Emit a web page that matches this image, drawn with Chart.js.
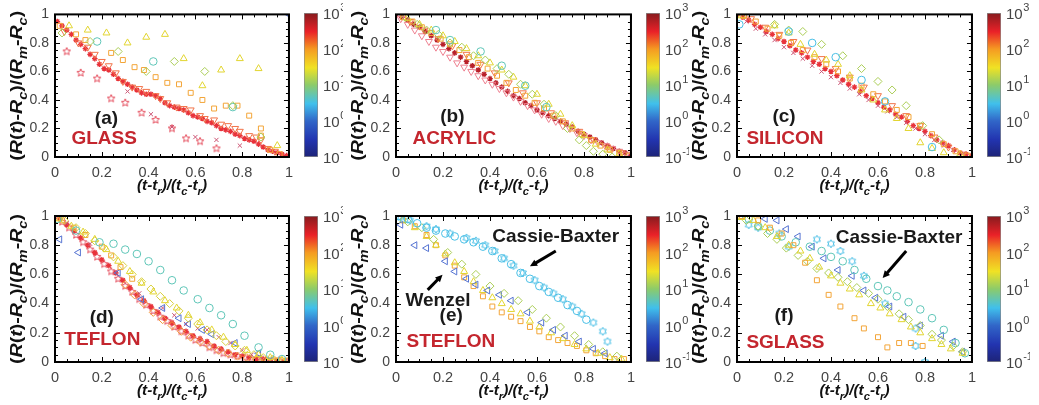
<!DOCTYPE html>
<html><head><meta charset="utf-8">
<script src="https://cdn.jsdelivr.net/npm/chart.js@4.4.1/dist/chart.umd.min.js"></script>
<style>
body{margin:0;background:#fff;width:1039px;height:405px;position:relative;overflow:hidden}
canvas{position:absolute}
canvas.panel{background:#fff}
</style></head><body>
<script>
// ---------------- DATA ----------------
const xTickLabels = ['0','0.2','0.4','0.6','0.8','1'];
const cbTickValues = [0.1, 1, 10, 100, 1000];
const cbTickBase = '10';
const cbTickExps = ['-1','0','1','2','3'];
const panelLetters = ['(a)','(b)','(c)','(d)','(e)','(f)'];
const materials = ['GLASS','ACRYLIC','SILICON','TEFLON','STEFLON','SGLASS'];

// (a) GLASS
const a_ast = [[.01,.95],[.03,.92],[.05,.89],[.07,.86],[.09,.82],[.11,.79],[.13,.76],[.15,.72],[.17,.69],[.19,.65],[.21,.62],[.23,.61],[.25,.58],[.27,.55],[.29,.53],[.31,.51],[.33,.49],[.35,.47],[.37,.45],[.39,.44],[.41,.44],[.43,.43],[.45,.41],[.47,.38],[.49,.36],[.51,.35],[.53,.34],[.55,.33],[.57,.31],[.59,.29],[.61,.28],[.63,.27],[.65,.25],[.67,.24],[.69,.22],[.71,.20],[.73,.19],[.75,.18],[.77,.16],[.79,.15],[.81,.13],[.83,.12],[.85,.11],[.87,.09],[.89,.07],[.91,.05],[.93,.04],[.95,.03],[.97,.02],[.99,.01]];
const a_tridown = [[.04,.88],[.10,.80],[.14,.77],[.17,.72],[.20,.67],[.23,.64],[.26,.59],[.29,.53],[.33,.49],[.36,.48],[.39,.46],[.43,.43],[.45,.41],[.48,.38],[.52,.35],[.55,.34],[.58,.33],[.62,.29],[.64,.27],[.68,.26],[.71,.23],[.74,.22],[.77,.20],[.79,.18],[.83,.15],[.86,.14],[.88,.12],[.91,.06],[.94,.04]];
const a_square = [[.02,.92],[.09,.86],[.13,.82],[.24,.73],[.29,.68],[.34,.63],[.38,.61],[.43,.56],[.48,.52],[.53,.51],[.58,.45],[.63,.40],[.68,.34],[.73,.36],[.78,.36],[.83,.29],[.88,.20],[.88,.15],[.92,.05],[.96,.02]];
const a_triup = [[.06,.92],[.14,.89],[.22,.87],[.31,.80],[.39,.84],[.47,.86],[.55,.69],[.63,.50],[.71,.61],[.79,.69],[.87,.62],[.95,.08]];
const a_circle = [[.18,.81],[.42,.67],[.76,.35]];
const a_diamond = [[.03,.87],[.15,.81],[.27,.74],[.39,.60],[.51,.67],[.64,.60],[.76,.36],[.88,.14]];
const a_penta = [[.05,.74],[.11,.59],[.18,.55],[.24,.41],[.30,.38],[.37,.31],[.43,.26],[.50,.20],[.56,.13],[.62,.11],[.69,.06]];
const a_cross = [[.31,.46],[.41,.30],[.50,.21],[.60,.14],[.69,.12],[.79,.08]];
const a_blue = [[1,1]];

// (b) ACRYLIC
const b_ast = [[0,1],[.025,.98],[.05,.96],[.075,.93],[.1,.91],[.125,.88],[.15,.85],[.175,.82],[.2,.79],[.225,.76],[.25,.73],[.275,.70],[.3,.67],[.325,.64],[.35,.61],[.375,.58],[.4,.55],[.425,.52],[.45,.49],[.475,.46],[.5,.43],[.525,.41],[.55,.38],[.575,.36],[.6,.33],[.625,.31],[.65,.29],[.675,.27],[.7,.25],[.725,.23],[.75,.21],[.775,.18],[.8,.16],[.825,.14],[.85,.12],[.875,.10],[.9,.08],[.925,.06],[.95,.04],[.975,.03],[1,.01]];
const b_pinktri = [[.02,.97],[.05,.93],[.08,.89],[.11,.85],[.14,.81],[.17,.77],[.2,.74],[.23,.70],[.26,.66],[.29,.63],[.32,.60],[.35,.57],[.38,.54],[.41,.51],[.44,.48],[.47,.45],[.50,.42],[.53,.39],[.56,.36],[.59,.33],[.62,.30],[.65,.27],[.68,.25],[.71,.22],[.74,.20],[.77,.17],[.80,.15],[.83,.12],[.86,.10],[.89,.08],[.92,.06],[.95,.04],[.98,.02]];
const b_square = [[.03,.98],[.07,.95],[.11,.91],[.15,.87],[.19,.83],[.23,.79],[.27,.75],[.31,.70],[.35,.66],[.39,.62],[.43,.57],[.47,.52],[.51,.47],[.55,.43],[.59,.38],[.63,.34],[.67,.29],[.71,.25],[.75,.20],[.79,.16],[.83,.12],[.87,.08],[.91,.05],[.95,.03],[.99,.01]];
const b_triup = [[.05,.97],[.1,.93],[.15,.89],[.2,.85],[.25,.81],[.3,.76],[.35,.71],[.4,.66],[.45,.61],[.5,.56],[.55,.50],[.6,.44],[.65,.37],[.7,.30],[.75,.22],[.8,.15],[.85,.09],[.9,.05],[.95,.02]];
const b_diamond = [[.04,.98],[.09,.93],[.13,.89],[.18,.86],[.23,.80],[.28,.77],[.33,.71],[.38,.68],[.43,.62],[.48,.58],[.53,.51],[.58,.44],[.63,.37],[.68,.29],[.73,.20],[.78,.12],[.81,.08],[.84,.04],[.88,.02],[.92,0]];
const b_circle = [[.17,.89],[.23,.82],[.36,.74],[.45,.64],[.55,.50],[.64,.35]];
const b_tridown = [[.06,.95],[.12,.89],[.18,.83],[.24,.78],[.3,.72],[.36,.65],[.42,.59],[.48,.52],[.54,.45],[.6,.38],[.66,.31],[.72,.24],[.78,.18],[.84,.12],[.9,.07],[.96,.03]];

// (c) SILICON
const c_ast = [[0,1],[.025,.98],[.05,.96],[.075,.93],[.1,.91],[.125,.88],[.15,.86],[.175,.83],[.2,.81],[.225,.78],[.25,.75],[.275,.73],[.3,.70],[.325,.67],[.35,.65],[.375,.62],[.4,.60],[.425,.57],[.45,.54],[.475,.51],[.5,.49],[.525,.46],[.55,.43],[.575,.41],[.6,.38],[.625,.35],[.65,.33],[.675,.30],[.7,.28],[.725,.25],[.75,.22],[.775,.20],[.8,.18],[.825,.15],[.85,.12],[.875,.10],[.9,.08],[.925,.05],[.95,.03],[.975,.02],[1,.01]];
const c_cross = [[.04,.95],[.08,.90],[.12,.86],[.16,.82],[.2,.77],[.24,.73],[.28,.69],[.32,.64],[.36,.60],[.4,.56],[.44,.52],[.48,.48],[.52,.44],[.56,.40],[.6,.36],[.64,.32],[.68,.28],[.72,.24],[.76,.20],[.8,.16],[.84,.12],[.88,.08],[.92,.05],[.96,.02]];
const c_square = [[.03,.99],[.08,.95],[.13,.90],[.18,.85],[.23,.80],[.28,.75],[.33,.70],[.38,.65],[.43,.60],[.48,.55],[.53,.50],[.58,.44],[.63,.39],[.68,.33],[.73,.28],[.78,.22],[.83,.16],[.88,.09],[.93,.04],[.98,.01]];
const c_tridown = [[.06,.97],[.12,.91],[.18,.86],[.24,.81],[.3,.75],[.36,.69],[.42,.62],[.48,.56],[.54,.49],[.6,.43],[.66,.36],[.72,.29],[.78,.22],[.84,.14],[.9,.07],[.96,.02]];
const c_triup = [[.02,.99],[.16,.92],[.22,.87],[.27,.79],[.33,.72],[.38,.68],[.43,.65],[.48,.57],[.53,.47],[.58,.40],[.63,.33],[.68,.27],[.73,.20],[.78,.10],[.83,.06],[.88,.03],[.95,.02]];
const c_diamond = [[.16,.93],[.22,.89],[.28,.88],[.36,.79],[.45,.71],[.53,.62],[.60,.53],[.66,.47],[.72,.36],[.79,.22],[.86,.12]];
const c_circle = [[.01,.93],[.22,.88],[.32,.80],[.42,.70],[.53,.54],[.63,.39],[.83,.07]];

// (d) TEFLON
const d_penta = [[0,1],[.03,.96],[.06,.92],[.09,.87],[.12,.82],[.15,.77],[.18,.72],[.21,.67],[.24,.62],[.27,.57],[.3,.52],[.33,.48],[.36,.43],[.39,.39],[.42,.35],[.45,.31],[.48,.28],[.51,.24],[.54,.21],[.57,.18],[.6,.15],[.63,.13],[.66,.10],[.69,.08],[.72,.06],[.75,.05],[.78,.04],[.81,.03],[.84,.02],[.87,.02],[.9,.01],[.93,.01],[.96,.01],[.99,0]];
const d_ast = [[.02,.98],[.05,.94],[.08,.90],[.11,.85],[.14,.80],[.17,.75],[.2,.70],[.23,.66],[.26,.61],[.29,.56],[.32,.51],[.35,.46],[.38,.42],[.41,.38],[.44,.34],[.47,.30],[.5,.27],[.53,.24],[.56,.21],[.59,.18],[.62,.16],[.65,.14],[.68,.11],[.71,.09],[.74,.07],[.77,.05],[.8,.04],[.83,.03],[.86,.02],[.89,.02],[.92,.01],[.95,.01],[.98,0]];
const d_odiamond = [[.3,.53],[.34,.46],[.38,.40],[.42,.34],[.46,.29],[.5,.25],[.54,.21],[.58,.17],[.62,.14],[.66,.11],[.7,.08],[.74,.06],[.78,.04],[.82,.03],[.86,.02],[.9,.01],[.94,.01],[.98,0]];
const d_diamond = [[.04,.97],[.09,.92],[.13,.88],[.17,.83],[.21,.78],[.25,.72],[.29,.66],[.33,.60],[.37,.55],[.41,.50],[.45,.45],[.49,.40],[.53,.35],[.57,.30],[.61,.26],[.65,.22],[.69,.18],[.73,.14],[.77,.11],[.81,.08],[.85,.05],[.89,.03],[.93,.02],[.97,.01]];
const d_square = [[.03,.97],[.08,.92],[.13,.87],[.2,.79],[.24,.73],[.28,.65],[.33,.57],[.95,.01],[.99,.01]];
const d_cross = [[.05,.95],[.15,.81],[.26,.62],[.36,.47],[.46,.37],[.51,.32],[.56,.26],[.61,.23],[.65,.22],[.7,.17],[.75,.13],[.8,.08],[.84,.05],[.88,.03],[.92,.02]];
const d_lefttri = [[.02,.84],[.1,.75],[.27,.61],[.37,.43],[.46,.37],[.53,.30],[.57,.26],[.63,.22],[.67,.19],[.77,.13],[.87,.06]];
const d_triup = [[.02,.98],[.07,.93],[.12,.89],[.17,.84],[.22,.77],[.27,.69],[.32,.62],[.37,.54],[.42,.48],[.47,.42],[.52,.37],[.57,.32],[.62,.27],[.67,.22],[.72,.17],[.77,.12],[.82,.08],[.87,.05],[.92,.03],[.97,.01]];
const d_circle = [[.01,.98],[.09,.90],[.19,.82],[.25,.81],[.3,.77],[.35,.74],[.4,.69],[.45,.63],[.5,.56],[.55,.49],[.61,.43],[.66,.37],[.71,.32],[.76,.26],[.81,.18],[.87,.10],[.92,.05],[.97,.02]];

// (e) STEFLON
const e_circle = [[.01,1],[.05,.98],[.09,.95],[.13,.92],[.17,.90],[.21,.88],[.25,.86],[.29,.84],[.33,.82],[.37,.79],[.41,.76],[.45,.71],[.49,.67],[.53,.61],[.57,.57],[.61,.52],[.65,.48],[.69,.44],[.73,.39],[.77,.35],[.81,.29]];
const e_hexa = [[.02,.99],[.06,.97],[.13,.93],[.17,.91],[.23,.88],[.30,.85],[.34,.83],[.38,.80],[.42,.76],[.46,.71],[.50,.66],[.54,.61],[.59,.56],[.63,.51],[.67,.47],[.71,.43],[.75,.38],[.79,.33],[.84,.27],[.88,.21],[.90,.14]];
const e_lefttri = [[.02,.94],[.08,.80],[.13,.78],[.21,.69],[.25,.62],[.30,.57],[.34,.53],[.39,.49],[.44,.46],[.49,.42],[.56,.34],[.62,.27],[.67,.22],[.72,.18],[.78,.14],[.84,.09],[.89,.06]];
const e_triup = [[.03,.97],[.08,.92],[.13,.86],[.17,.80],[.21,.74],[.25,.68],[.29,.62],[.33,.55],[.37,.49],[.41,.44],[.45,.40],[.49,.36],[.53,.33],[.57,.28],[.61,.24],[.66,.20],[.71,.16],[.76,.12],[.81,.09],[.86,.06],[.91,.03],[.96,.02]];
const e_square = [[.03,.97],[.08,.93],[.13,.87],[.17,.80],[.21,.73],[.25,.66],[.29,.58],[.33,.52],[.37,.45],[.41,.38],[.45,.34],[.49,.31],[.53,.28],[.57,.24],[.61,.21],[.65,.17],[.69,.15],[.73,.13],[.77,.11],[.81,.08],[.85,.06],[.89,.04],[.93,.02],[.97,.02]];
const e_diamond = [[.05,.96],[.11,.92],[.16,.84],[.22,.75],[.28,.67],[.34,.60],[.40,.52],[.46,.47],[.52,.42],[.58,.36],[.64,.30],[.70,.24],[.76,.18],[.82,.12],[.88,.07],[.94,.04]];

// (f) SGLASS
const f_square = [[.02,1],[.09,.97],[.14,.92],[.19,.88],[.24,.80],[.29,.68],[.34,.56],[.39,.46],[.44,.38],[.50,.30],[.54,.23],[.60,.17],[.64,.10],[.69,.13],[.74,.13],[.79,.11]];
const f_triup = [[.02,.99],[.07,.97],[.12,.92],[.17,.86],[.22,.80],[.27,.76],[.31,.71],[.35,.65],[.40,.59],[.44,.54],[.48,.50],[.52,.46],[.57,.40],[.61,.37],[.65,.33],[.70,.29],[.74,.24],[.78,.20],[.83,.16],[.87,.12],[.91,.09],[.96,.06]];
const f_diamond = [[.04,.97],[.09,.93],[.13,.88],[.17,.84],[.21,.78],[.26,.73],[.30,.69],[.34,.64],[.39,.61],[.43,.58],[.47,.55],[.51,.51],[.56,.47],[.60,.43],[.64,.38],[.69,.33],[.73,.29],[.78,.25],[.83,.19],[.87,.15],[.92,.11],[.96,.07]];
const f_circle = [[.01,1],[.05,.98],[.09,.93],[.14,.90],[.19,.86],[.25,.82],[.31,.79],[.36,.76],[.40,.72],[.45,.69],[.50,.63],[.55,.57],[.60,.52],[.64,.49],[.68,.45],[.73,.41],[.78,.36],[.83,.30],[.88,.22],[.93,.13],[.97,.06]];
const f_lefttri = [[.12,.98],[.17,.97],[.21,.91],[.26,.86],[.32,.79],[.37,.71],[.43,.63],[.49,.59],[.54,.49],[.59,.44],[.65,.38],[.71,.31],[.78,.25],[.87,.18],[.92,.14],[.96,.07]];
const f_hexa = [[.05,.94],[.09,.92],[.18,.88],[.22,.79],[.34,.84],[.40,.81],[.44,.76],[.49,.69],[.54,.59],[.63,.40],[.76,.23],[.76,.11],[.80,0]];

// ---------------- STYLE ----------------
const FONT = "'Liberation Sans', Arial, sans-serif";
const TICK_COLOR = '#444';
const C = {red:'#e8323a', dkred:'#b8202a', orred:'#f2744a', orange:'#f3a538', yellow:'#e2d530', ygreen:'#aacd55',
  teal:'#5fc6b8', cyan:'#49bfe6', blue:'#5674d2', pink:'#cc5574', penta:'#e44a5a', matRed:'#c4262e'};

function starCanvas(n, color, r, inner){
  const s = Math.ceil(r*2+4), c = document.createElement('canvas');
  c.width = c.height = s; const g = c.getContext('2d');
  g.strokeStyle = color; g.lineWidth = 1; g.beginPath();
  for(let i=0;i<n*2;i++){ const rr = i%2 ? r*inner : r; const a = -Math.PI/2 + i*Math.PI/n;
    const px = s/2+rr*Math.cos(a), py = s/2+rr*Math.sin(a); i ? g.lineTo(px,py) : g.moveTo(px,py); }
  g.closePath(); g.stroke(); return c;
}
const M = {
  ast:     (col)=>({pointStyle:'star', pointRadius:2.8, pointBorderWidth:1.3, pointBorderColor:col}),
  tridown: (col)=>({pointStyle:'triangle', pointRotation:180, pointRadius:4, pointBorderWidth:1, pointBorderColor:col}),
  triup:   (col)=>({pointStyle:'triangle', pointRadius:4, pointBorderWidth:1, pointBorderColor:col}),
  lefttri: (col)=>({pointStyle:'triangle', pointRotation:270, pointRadius:4, pointBorderWidth:1, pointBorderColor:col}),
  square:  (col)=>({pointStyle:'rect', pointRadius:3.5, pointBorderWidth:1, pointBorderColor:col}),
  circle:  (col)=>({pointStyle:'circle', pointRadius:3.8, pointBorderWidth:1, pointBorderColor:col}),
  diamond: (col)=>({pointStyle:'rectRot', pointRadius:4, pointBorderWidth:1, pointBorderColor:col}),
  cross:   (col)=>({pointStyle:'crossRot', pointRadius:3, pointBorderWidth:1, pointBorderColor:col}),
  penta:   (col)=>({pointStyle:starCanvas(5,col,4,0.45)}),
  hexa:    (col)=>({pointStyle:starCanvas(6,col,4,0.58)}),
};
function ds(data, marker, col, filled){
  return Object.assign({data: data.map(([x,y])=>({x,y})), showLine:false,
    pointBackgroundColor: filled ? col : 'rgba(0,0,0,0)'}, M[marker](col));
}

const panels = [
  {left:0, top:0, h:200, padTop:13, plotL:55, plotR:293,
   series:[ds(a_diamond,'diamond',C.ygreen), ds(a_circle,'circle',C.teal), ds(a_triup,'triup',C.yellow), ds(a_square,'square',C.orange),
           ds(a_tridown,'tridown',C.orred), ds(a_cross,'cross',C.pink), ds(a_penta,'penta',C.penta), ds(a_ast,'ast',C.red), ds(a_blue,'lefttri',C.blue,true)],
   texts:[{t:panelLetters[0],x:.22,y:.27,al:'center',c:'#1a1a1a'},{t:materials[0],x:.07,y:.13,al:'left',c:C.matRed}], arrows:[]},
  {left:343, top:0, h:200, padTop:13, plotL:396, plotR:635,
   series:[ds(b_circle,'circle',C.teal), ds(b_diamond,'diamond',C.ygreen), ds(b_triup,'triup',C.yellow), ds(b_square,'square',C.orange),
           ds(b_tridown,'tridown',C.orred), ds(b_pinktri,'tridown','#ee8090'), ds(b_ast,'ast',C.dkred)],
   texts:[{t:panelLetters[1],x:.24,y:.28,al:'center',c:'#1a1a1a'},{t:materials[1],x:.07,y:.13,al:'left',c:C.matRed}], arrows:[]},
  {left:690, top:0, h:200, padTop:13, plotL:737, plotR:976,
   series:[ds(c_circle,'circle',C.cyan), ds(c_diamond,'diamond',C.ygreen), ds(c_triup,'triup',C.yellow), ds(c_square,'square',C.orange),
           ds(c_tridown,'tridown',C.orred), ds(c_cross,'cross',C.pink), ds(c_ast,'ast',C.red)],
   texts:[{t:panelLetters[2],x:.20,y:.28,al:'center',c:'#1a1a1a'},{t:materials[2],x:.04,y:.13,al:'left',c:C.matRed}], arrows:[]},
  {left:0, top:200, h:205, padTop:16, plotL:55, plotR:293,
   series:[ds(d_circle,'circle',C.teal), ds(d_triup,'triup',C.yellow), ds(d_diamond,'diamond','#d8d040'), ds(d_square,'square',C.orange),
           ds(d_lefttri,'lefttri',C.blue), ds(d_cross,'cross',C.pink), ds(d_odiamond,'diamond','#f39a3a'), ds(d_ast,'ast',C.red), ds(d_penta,'penta',C.penta)],
   texts:[{t:panelLetters[3],x:.20,y:.30,al:'center',c:'#1a1a1a'},{t:materials[3],x:.04,y:.15,al:'left',c:C.matRed}], arrows:[]},
  {left:343, top:200, h:205, padTop:16, plotL:396, plotR:635,
   series:[ds(e_circle,'circle',C.cyan), ds(e_hexa,'hexa',C.cyan), ds(e_diamond,'diamond',C.ygreen), ds(e_lefttri,'lefttri',C.blue),
           ds(e_triup,'triup',C.yellow), ds(e_square,'square',C.orange)],
   texts:[{t:'Cassie-Baxter',x:.41,y:.86,al:'left',c:'#1a1a1a'},{t:'Wenzel',x:.04,y:.42,al:'left',c:'#1a1a1a'},
          {t:panelLetters[4],x:.235,y:.32,al:'center',c:'#1a1a1a'},{t:materials[4],x:.045,y:.14,al:'left',c:C.matRed}],
   arrows:[{x1:.68,y1:.76,x2:.57,y2:.655},{x1:.135,y1:.494,x2:.198,y2:.598}]},
  {left:690, top:200, h:205, padTop:16, plotL:737, plotR:976,
   series:[ds(f_square,'square',C.orange), ds(f_triup,'triup',C.yellow), ds(f_diamond,'diamond',C.ygreen), ds(f_circle,'circle',C.teal),
           ds(f_lefttri,'lefttri',C.blue), ds(f_hexa,'hexa',C.cyan)],
   texts:[{t:'Cassie-Baxter',x:.42,y:.85,al:'left',c:'#1a1a1a'},{t:panelLetters[5],x:.20,y:.32,al:'center',c:'#1a1a1a'},
          {t:materials[5],x:.04,y:.13,al:'left',c:C.matRed}],
   arrows:[{x1:.72,y1:.76,x2:.62,y2:.575}]},
];

// ---------------- RICH TEXT ----------------
const yTitle = [['(',0,0],['R',1,0],['(',0,0],['t',1,0],[')-',0,0],['R',1,0],['c',1,1],[')/(',0,0],['R',1,0],['m',1,1],['-',0,0],['R',1,0],['c',1,1],[')',0,0]];
const xTitle = [['(t-t',1,0],['r',1,1],[')/(t',1,0],['c',1,1],['-t',1,0],['r',1,1],[')',1,0]];
function segFont(s, size){ return (s[1]?'italic ':'') + 'bold ' + (s[2]? Math.round(size*0.72): size) + 'px ' + FONT; }
function drawRich(ctx, segs, size, cx, cy, rot, target){
  ctx.save();
  let w = 0; segs.forEach(s=>{ ctx.font = segFont(s,size); w += ctx.measureText(s[0]).width; });
  ctx.translate(cx, cy); ctx.rotate(rot); const k = target ? target/w : 1; ctx.scale(k,1);
  let x = -w/2; ctx.fillStyle = '#111'; ctx.textBaseline = 'middle'; ctx.textAlign = 'left';
  segs.forEach(s=>{ ctx.font = segFont(s,size); ctx.fillText(s[0], x, s[2]? size*0.38 : 0); x += ctx.measureText(s[0]).width; });
  ctx.restore();
}

const decoPlugin = {
  id:'deco',
  afterDraw(chart, args, opts){
    const {ctx, chartArea:a, scales:{x, y}} = chart;
    ctx.save();
    ctx.strokeStyle = '#000'; ctx.lineWidth = 1;
    x.ticks.forEach(t=>{ const px = Math.round(x.getPixelForValue(t.value))+0.5; const major = Math.round(t.value*100)%20===0; const L = major?5:3;
      ctx.beginPath(); ctx.moveTo(px, a.bottom); ctx.lineTo(px, a.bottom-L); ctx.moveTo(px, a.top); ctx.lineTo(px, a.top+L); ctx.stroke(); });
    y.ticks.forEach(t=>{ const py = Math.round(y.getPixelForValue(t.value))+0.5; const major = Math.round(t.value*100)%20===0; const L = major?5:3;
      ctx.beginPath(); ctx.moveTo(a.left, py); ctx.lineTo(a.left+L, py); ctx.moveTo(a.right, py); ctx.lineTo(a.right-L, py); ctx.stroke(); });
    ctx.lineWidth = 2; ctx.strokeRect(a.left, a.top, a.right-a.left, a.bottom-a.top);
    drawRich(ctx, yTitle, 16, a.left-37, (a.top+a.bottom)/2, -Math.PI/2, 150);
    drawRich(ctx, xTitle, 15, (a.left+a.right)/2, a.bottom+29, 0, 70);
    (opts.texts||[]).forEach(t=>{ ctx.font = 'bold 19px '+FONT; ctx.fillStyle = t.c; ctx.textAlign = t.al; ctx.textBaseline='middle';
      ctx.fillText(t.t, x.getPixelForValue(t.x), y.getPixelForValue(t.y)); });
    (opts.arrows||[]).forEach(r=>{ const x1=x.getPixelForValue(r.x1), y1=y.getPixelForValue(r.y1), x2=x.getPixelForValue(r.x2), y2=y.getPixelForValue(r.y2);
      const ang = Math.atan2(y2-y1, x2-x1), hl = 8;
      ctx.strokeStyle='#000'; ctx.fillStyle='#000'; ctx.lineWidth=3;
      ctx.beginPath(); ctx.moveTo(x1,y1); ctx.lineTo(x2-Math.cos(ang)*hl*0.8, y2-Math.sin(ang)*hl*0.8); ctx.stroke();
      ctx.beginPath(); ctx.moveTo(x2,y2); ctx.lineTo(x2-hl*Math.cos(ang-0.45), y2-hl*Math.sin(ang-0.45)); ctx.lineTo(x2-hl*Math.cos(ang+0.45), y2-hl*Math.sin(ang+0.45)); ctx.closePath(); ctx.fill(); });
    ctx.restore();
  }
};

const cbLabelPlugin = {
  id:'cbLabels',
  afterDraw(chart){
    const {ctx, chartArea:a, scales:{y}} = chart;
    ctx.save(); ctx.fillStyle = TICK_COLOR; ctx.textBaseline = 'middle'; ctx.textAlign = 'left';
    cbTickValues.forEach((v,i)=>{
      const py = y.getPixelForValue(v), px = a.right + 5;
      ctx.font = '15px ' + FONT; ctx.fillText(cbTickBase, px, py + 2);
      const bw = ctx.measureText(cbTickBase).width;
      ctx.font = '11px ' + FONT; ctx.fillText(cbTickExps[i], px + bw + 0.5, py - 5);
    });
    ctx.restore();
  }
};

function labelFor(v){ const k = Math.round(v*100); return k%20===0 ? xTickLabels[k/20] : ''; }
function mkCanvas(left, top, w, h, cls){ const c = document.createElement('canvas'); c.width=w; c.height=h;
  c.style.left=left+'px'; c.style.top=top+'px'; c.style.width=w+'px'; c.style.height=h+'px'; if(cls) c.className=cls; document.body.appendChild(c); return c; }

const jetStops = [[0,'#1d2377'],[0.12,'#2234b0'],[0.25,'#3166c8'],[0.37,'#40c0ec'],[0.5,'#8ccb6a'],[0.62,'#f0e224'],[0.75,'#f59a22'],[0.87,'#ea2128'],[1,'#861b1e']];

panels.forEach(p=>{
  const w = p.plotR + 7 - p.left;
  const cv = mkCanvas(p.left, p.top, w, p.h, 'panel');
  new Chart(cv, {
    type:'scatter',
    data:{datasets:p.series},
    options:{
      responsive:false, animation:false, devicePixelRatio:1,
      layout:{padding:{left:0, right:7, top:p.padTop, bottom:0}},
      plugins:{legend:{display:false}, tooltip:{enabled:false}, deco:{texts:p.texts, arrows:p.arrows}},
      scales:{
        x:{type:'linear', min:0, max:1, grid:{display:false, drawTicks:false, tickLength:0}, border:{display:false},
           afterFit:(s)=>{ s.height = 43; },
           ticks:{stepSize:0.05, autoSkip:false, maxRotation:0, padding:7, color:TICK_COLOR, font:{family:FONT, size:14.5}, callback:labelFor}},
        y:{type:'linear', min:0, max:1, grid:{display:false, drawTicks:false, tickLength:0}, border:{display:false},
           afterFit:(s)=>{ s.width = p.plotL - p.left; },
           ticks:{stepSize:0.05, autoSkip:false, padding:6, color:TICK_COLOR, font:{family:FONT, size:14}, callback:labelFor}}
      }
    },
    plugins:[decoPlugin]
  });
  const cbLeft = p.plotR + 7, cbW = Math.min(47, 1039 - cbLeft);
  const cc = mkCanvas(cbLeft, p.top, cbW, p.h, '');
  new Chart(cc, {
    type:'bar',
    data:{labels:['cb'], datasets:[{data:[[cbTickValues[0], cbTickValues[cbTickValues.length-1]]],
      barPercentage:1, categoryPercentage:1, borderWidth:1, borderColor:'#8a8a8a', borderSkipped:false,
      backgroundColor:(ctx)=>{ const ch = ctx.chart, a = ch.chartArea; if(!a) return '#888';
        const g = ch.ctx.createLinearGradient(0, a.bottom, 0, a.top); jetStops.forEach(s=>g.addColorStop(s[0], s[1])); return g; }}]},
    options:{
      responsive:false, animation:false, devicePixelRatio:1,
      layout:{padding:{left:4, right:0, top:p.padTop, bottom:43}},
      plugins:{legend:{display:false}, tooltip:{enabled:false}},
      scales:{
        x:{display:false},
        y:{type:'logarithmic', position:'right', min:cbTickValues[0], max:cbTickValues[cbTickValues.length-1],
           grid:{display:false, drawTicks:false}, border:{display:false},
           afterFit:(s)=>{ s.width = cbW - 4 - 14; },
           afterBuildTicks:(s)=>{ s.ticks = cbTickValues.map(v=>({value:v})); },
           ticks:{display:false}}
      }
    },
    plugins:[cbLabelPlugin]
  });
});
</script>
</body></html>
